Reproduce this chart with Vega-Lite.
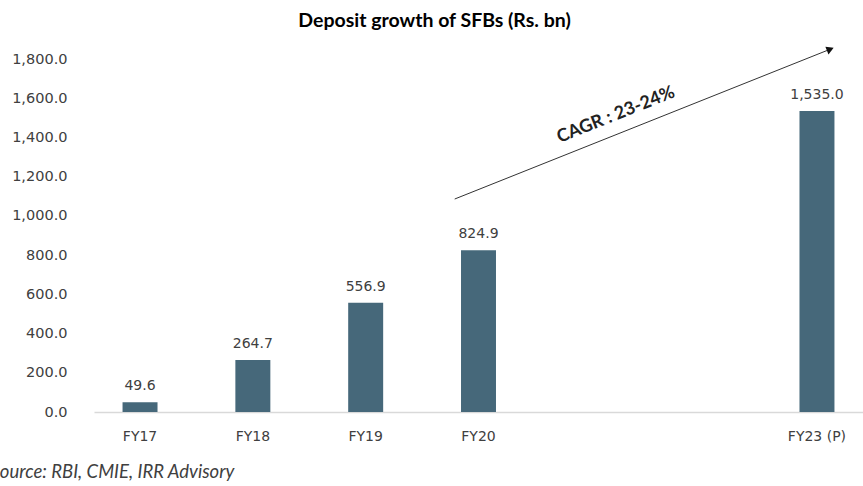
{
  "$schema": "https://vega.github.io/schema/vega-lite/v6.json",
  "autosize": {"type": "none"},
  "padding": {"left": 94, "top": 59, "right": 0, "bottom": 74},
  "width": 769,
  "height": 353,
  "background": "white",
  "config": {"font": "DejaVu Sans", "view": {"stroke": null}},
  "title": {"text": "Deposit growth of SFBs (Rs. bn)", "fontSize": 19.5, "fontWeight": "bold", "color": "#000000", "anchor": "middle", "dx": -44, "offset": 15, "font": "Lato"},
  "datasets": {
    "bars": [
      {"year": "FY17", "value": 49.6},
      {"year": "FY18", "value": 264.7},
      {"year": "FY19", "value": 556.9},
      {"year": "FY20", "value": 824.9},
      {"year": "FY23 (P)", "value": 1535.0}
    ],
    "arrow": [{"x": 2.79, "y": 1086, "x2": 6.12, "y2": 1850}],
    "head": [{"x": 6.12, "y": 1850}],
    "note": [{"x": 4.22, "y": 1514, "label": "CAGR : 23-24%"}]
  },
  "layer": [
    {
      "data": {"name": "bars"},
      "encoding": {
        "x": {
          "field": "year", "type": "nominal", "sort": null,
          "scale": {"domain": ["FY17", "FY18", "FY19", "FY20", "FY21", "FY22", "FY23 (P)"], "paddingInner": 0.69, "paddingOuter": 0.253},
          "axis": {
            "labelExpr": "datum.value == 'FY21' || datum.value == 'FY22' ? '' : datum.label",
            "labelAngle": 0, "labelFontSize": 14, "labelColor": "#404040", "labelPadding": 17,
            "ticks": false, "domainColor": "#d9d9d9", "domainWidth": 1.5,
            "title": "Source: RBI, CMIE, IRR Advisory", "titleFont": "Lato", "titleFontStyle": "italic", "titleFontWeight": "normal",
            "titleFontSize": 18.5, "titleColor": "#404040", "titleAnchor": "start", "titleAlign": "left",
            "titleX": -104, "titleY": 59, "titleBaseline": "middle"
          }
        },
        "y": {
          "field": "value", "type": "quantitative",
          "scale": {"domain": [0, 1800], "nice": false},
          "axis": {"values": [0, 200, 400, 600, 800, 1000, 1200, 1400, 1600, 1800], "format": ",.1f", "grid": false, "domain": false, "ticks": false, "labelOverlap": false, "labelFontSize": 14.5, "labelColor": "#404040", "labelPadding": 27, "title": null}
        }
      },
      "layer": [
        {"mark": {"type": "bar", "color": "#46687a"}},
        {
          "mark": {"type": "text", "baseline": "bottom", "dy": -9, "fontSize": 14, "color": "#404040"},
          "encoding": {"text": {"field": "value", "type": "quantitative", "format": ",.1f"}}
        }
      ]
    },
    {
      "data": {"name": "arrow"},
      "mark": {"type": "rule", "color": "#333333", "strokeWidth": 1, "clip": false},
      "encoding": {
        "x": {"field": "x", "type": "quantitative", "scale": {"domain": [-0.408, 6.41], "nice": false, "zero": false}, "axis": null},
        "x2": {"field": "x2"},
        "y": {"field": "y", "type": "quantitative", "axis": {"values": [0, 200, 400, 600, 800, 1000, 1200, 1400, 1600, 1800], "format": ",.1f", "grid": false, "domain": false, "ticks": false, "labelOverlap": false, "labelFontSize": 14.5, "labelColor": "#404040", "labelPadding": 27, "title": null}},
        "y2": {"field": "y2"}
      }
    },
    {
      "data": {"name": "head"},
      "mark": {"type": "point", "shape": "triangle-right", "filled": true, "color": "#111111", "opacity": 1, "size": 70, "angle": 338.2, "clip": false},
      "encoding": {
        "x": {"field": "x", "type": "quantitative", "scale": {"domain": [-0.408, 6.41], "nice": false, "zero": false}, "axis": null},
        "y": {"field": "y", "type": "quantitative", "axis": {"values": [0, 200, 400, 600, 800, 1000, 1200, 1400, 1600, 1800], "format": ",.1f", "grid": false, "domain": false, "ticks": false, "labelOverlap": false, "labelFontSize": 14.5, "labelColor": "#404040", "labelPadding": 27, "title": null}}
      }
    },
    {
      "data": {"name": "note"},
      "mark": {"type": "text", "angle": 338.2, "font": "Lato", "fontSize": 18, "fontWeight": "bold", "color": "#222222", "clip": false},
      "encoding": {
        "x": {"field": "x", "type": "quantitative", "scale": {"domain": [-0.408, 6.41], "nice": false, "zero": false}, "axis": null},
        "y": {"field": "y", "type": "quantitative", "axis": {"values": [0, 200, 400, 600, 800, 1000, 1200, 1400, 1600, 1800], "format": ",.1f", "grid": false, "domain": false, "ticks": false, "labelOverlap": false, "labelFontSize": 14.5, "labelColor": "#404040", "labelPadding": 27, "title": null}},
        "text": {"field": "label"}
      }
    }
  ],
  "resolve": {"scale": {"x": "independent"}}
}
